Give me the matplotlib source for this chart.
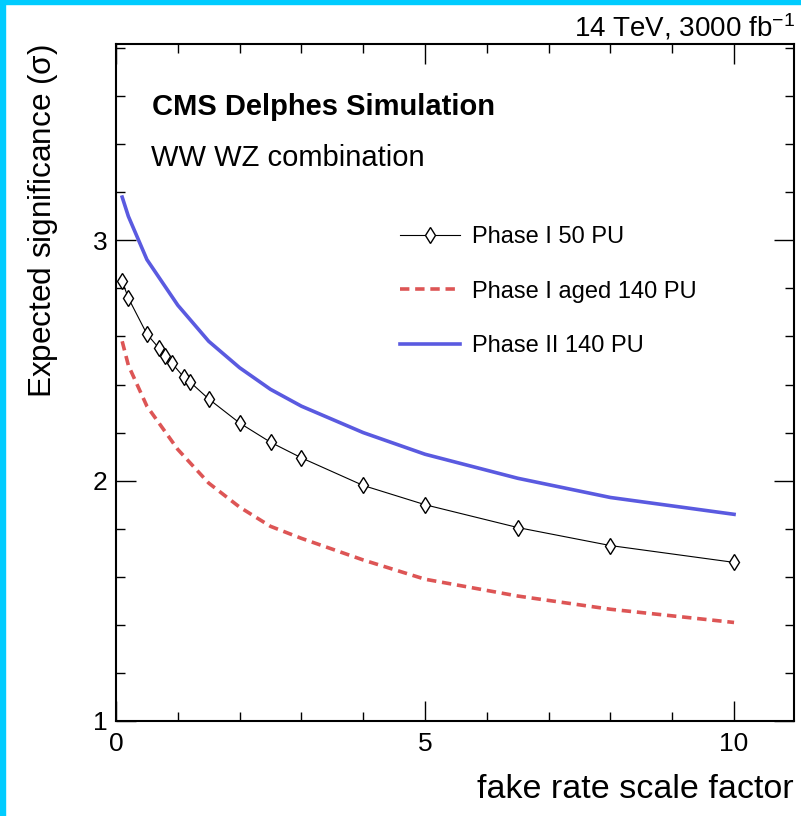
import numpy as np
import matplotlib
matplotlib.use("Agg")
import matplotlib.pyplot as plt
from matplotlib.patches import Rectangle
from matplotlib.ticker import MultipleLocator

plt.rcParams['font.family'] = ['Liberation Sans', 'DejaVu Sans']
plt.rcParams['mathtext.default'] = 'regular'

# fake rate scale factor values
x_p1 = [0.1, 0.2, 0.5, 0.7, 0.8, 0.9, 1.1, 1.2, 1.5, 2, 2.5, 3, 4, 5, 6.5, 8, 10]
sig_p1 = [2.83, 2.76, 2.61, 2.55, 2.52, 2.49, 2.43, 2.41, 2.34, 2.24, 2.16, 2.095,
          1.98, 1.90, 1.805, 1.73, 1.66]

x_curves = [0.1, 0.2, 0.5, 1, 1.5, 2, 2.5, 3, 4, 5, 6.5, 8, 10]
sig_aged = [2.58, 2.48, 2.31, 2.13, 1.99, 1.89, 1.81, 1.76, 1.67, 1.59, 1.52, 1.465, 1.41]
sig_p2 = [3.18, 3.10, 2.92, 2.73, 2.58, 2.47, 2.38, 2.31, 2.20, 2.11, 2.01, 1.93, 1.86]

labels = ["Phase I 50 PU", "Phase I aged 140 PU", "Phase II 140 PU"]

fig = plt.figure(figsize=(8.01, 8.16), dpi=100)
ax = fig.add_axes([116 / 801, 1 - 721 / 816, 678 / 801, 677 / 816])

ax.plot(x_p1, sig_p1, color='black', lw=0.8, marker='d', ms=8.5, mfc='white',
        mec='black', mew=1.0, label=labels[0])
ax.plot(x_curves, sig_aged, color='#dd5555', lw=2.6, ls=(0, (2.6, 1.6)), label=labels[1])
ax.plot(x_curves, sig_p2, color='#5a5ae0', lw=2.6, label=labels[2])

ax.set_xlim(0, 10.97)
ax.set_ylim(1, 3.817)
ax.xaxis.set_major_locator(MultipleLocator(5))
ax.xaxis.set_minor_locator(MultipleLocator(1))
ax.yaxis.set_major_locator(MultipleLocator(1))
ax.yaxis.set_minor_locator(MultipleLocator(0.2))
ax.tick_params(which='both', direction='in', top=True, right=True, width=1.0,
               labelsize=19)
ax.tick_params(which='major', length=14.5)
ax.tick_params(which='minor', length=6.5)
ax.tick_params(axis='x', pad=8)
ax.tick_params(axis='y', pad=6)
for sp in ax.spines.values():
    sp.set_linewidth(1.5)

ax.set_xlabel("fake rate scale factor", fontsize=24.5, loc='right')
ax.set_ylabel(r"Expected significance ($\sigma$)", fontsize=22.7, loc='top')
ax.xaxis.set_label_coords(1.0, -0.078)
ax.yaxis.set_label_coords(-0.082, 1.0)

ax.text(0.053, 0.895, "CMS Delphes Simulation", transform=ax.transAxes,
        fontsize=21, fontweight='bold', va='baseline')
ax.text(0.051, 0.82, "WW WZ combination", transform=ax.transAxes,
        fontsize=21, va='baseline')

ax.legend(loc='upper left', bbox_to_anchor=(0.419, 0.731), frameon=False,
          fontsize=17, handlelength=2.55, handletextpad=0.5, labelspacing=1.38,
          borderpad=0, borderaxespad=0)

fig.text(795 / 801, 1 - 37 / 816, "14 TeV, 3000 fb$^{-1}$", ha='right',
         va='baseline', fontsize=20)

# cyan border strips
fig.patches.append(Rectangle((0, 0), 5 / 801, 1, transform=fig.transFigure,
                             color='#00ccff', zorder=10))
fig.patches.append(Rectangle((0, 1 - 4 / 816), 1, 4 / 816, transform=fig.transFigure,
                             color='#00ccff', zorder=10))

fig.savefig("out.png", dpi=100)
